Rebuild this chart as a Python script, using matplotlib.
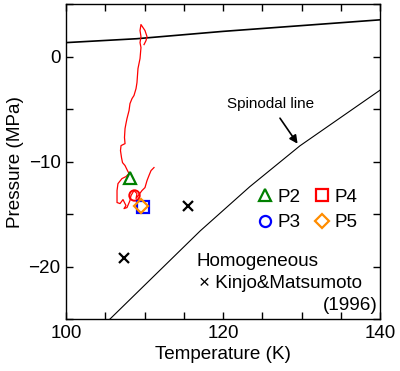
import matplotlib
matplotlib.use('Agg')
import matplotlib.pyplot as plt
from matplotlib.lines import Line2D
from matplotlib.ticker import MultipleLocator

plt.rcParams['font.family'] = ['Liberation Sans', 'DejaVu Sans']
plt.rcParams['font.size'] = 13.6

# Red measured trajectory (T in K, P in MPa)
trace_T = [109.94, 110.19, 110.32, 110.06, 109.81, 109.55, 109.43, 109.55, 109.43, 109.55,
           109.43, 109.17, 109.04, 108.92, 108.66, 108.41, 108.15, 108.03, 107.77, 107.64,
           107.52, 107.45, 107.52, 107.01, 106.94, 107.07, 107.20, 107.52, 107.83, 108.03,
           107.64, 107.13, 106.62, 106.50, 106.50, 106.50, 106.88, 107.26, 107.64, 107.39,
           107.77, 108.15, 108.28, 108.66, 109.04, 108.92, 109.30, 109.68, 110.06, 110.32,
           110.57, 110.83, 111.21]
trace_P = [1.14, 1.52, 1.90, 2.48, 2.76, 3.05, 2.48, 1.90, 1.33, 0.86,
           -0.19, -1.14, -2.48, -3.05, -3.71, -4.00, -4.48, -5.14, -5.90, -6.38,
           -6.86, -7.71, -8.29, -8.48, -8.95, -9.62, -10.10, -10.38, -10.86, -11.14,
           -11.43, -11.62, -12.10, -12.76, -13.43, -13.90, -14.00, -13.62, -14.19, -14.48,
           -14.38, -13.71, -13.24, -12.76, -13.05, -13.52, -13.14, -12.76, -12.48, -11.81,
           -11.33, -10.86, -10.57]

# saturation-like line near the top
upper_T = [100, 109, 120, 130, 140]
upper_P = [1.33, 1.70, 2.40, 2.95, 3.50]

# spinodal line
spin_T = [105.6, 117.1, 123.4, 129.8, 140.0]
spin_P = [-25.0, -16.6, -12.4, -8.5, -3.2]

# Kinjo & Matsumoto (1996) homogeneous nucleation points
km_T = [115.6, 107.4]
km_P = [-14.2, -19.2]

# P2..P5 points (as drawn)
p2 = (108.2, -11.55)
p4 = (108.6, -13.2)
p3 = (109.8, -14.35)
p5 = (109.5, -14.2)

fig = plt.figure(figsize=(4.0, 3.71), dpi=100)
ax = fig.add_axes([0.165, 0.140, 0.785, 0.849])

ax.plot(upper_T, upper_P, color='black', lw=1.2)
ax.plot(spin_T, spin_P, color='black', lw=0.8)
ax.plot(trace_T, trace_P, color='red', lw=0.9)

ms, mew = 8, 1.6
ax.plot(*p2, marker='^', ms=ms, mfc='none', mec='green', mew=mew)
ax.plot(*p4, marker='o', ms=7.5, mfc='none', mec='red', mew=1.4)
ax.plot(*p3, marker='s', ms=ms, mfc='none', mec='blue', mew=mew)
ax.plot(*p5, marker='D', ms=7, mfc='none', mec='darkorange', mew=mew)
ax.plot(km_T, km_P, 'x', color='black', ms=7, mew=1.6)

handles = [
    Line2D([], [], ls='none', marker='^', ms=ms, mfc='none', mec='green', mew=mew, label='P2'),
    Line2D([], [], ls='none', marker='o', ms=ms, mfc='none', mec='blue', mew=mew, label='P3'),
    Line2D([], [], ls='none', marker='s', ms=ms, mfc='none', mec='red', mew=mew, label='P4'),
    Line2D([], [], ls='none', marker='D', ms=7, mfc='none', mec='darkorange', mew=mew, label='P5'),
]
ax.legend(handles=handles, ncol=2, frameon=False, loc='upper left',
          bbox_to_anchor=(0.58, 0.445), handlelength=0.8, handletextpad=0.25,
          columnspacing=0.75, labelspacing=0.45, borderpad=0, fontsize=13.6)

ax.text(116.6, -19.5, 'Homogeneous', ha='left', va='center')
ax.text(117.0, -21.6, '× Kinjo&Matsumoto', ha='left', va='center')
ax.text(139.7, -23.7, '(1996)', ha='right', va='center')

ax.annotate('Spinodal line', xy=(129.5, -8.3), xytext=(126.0, -4.5),
            ha='center', va='center', fontsize=11,
            arrowprops=dict(arrowstyle='-|>', color='black', lw=1.2,
                            mutation_scale=12, shrinkA=4, shrinkB=0))

ax.set_xlim(100, 140)
ax.set_ylim(-25, 5)
ax.xaxis.set_major_locator(MultipleLocator(20))
ax.xaxis.set_minor_locator(MultipleLocator(5))
ax.yaxis.set_major_locator(MultipleLocator(10))
ax.yaxis.set_minor_locator(MultipleLocator(5))
ax.tick_params(which='both', direction='in', top=True, right=True, length=5, width=1)
ax.tick_params(axis='both', which='major', labelsize=13.6, pad=4)
for s in ax.spines.values():
    s.set_linewidth(1.0)

ax.set_xlabel('Temperature (K)', labelpad=3)
ax.set_ylabel('Pressure (MPa)', labelpad=3)

fig.savefig('out.png', dpi=100)
